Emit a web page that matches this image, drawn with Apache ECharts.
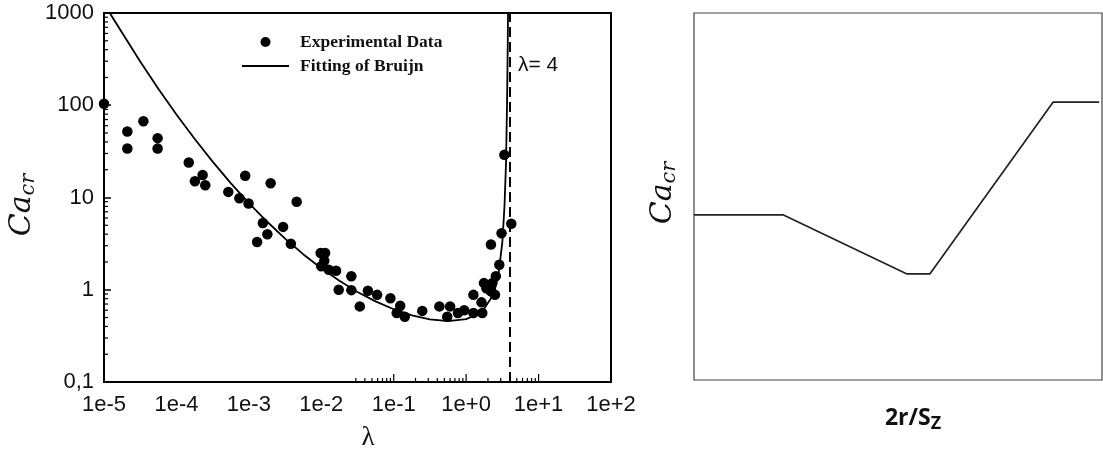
<!DOCTYPE html>
<html><head><meta charset="utf-8">
<script src="https://cdn.jsdelivr.net/npm/echarts@6/dist/echarts.min.js"></script>
<style>html,body{margin:0;padding:0;background:#fff}#c{width:1103px;height:454px}</style>
</head><body><div id="c"></div>
<script>
// ---- Left panel: experimental data (lambda, Ca_cr) ----
const expLambda = [1.0e-5, 2.1e-5, 2.1e-5, 3.5e-5, 5.5e-5, 5.5e-5, 1.48e-4, 1.8e-4, 2.3e-4, 2.5e-4,
  5.2e-4, 7.4e-4, 8.9e-4, 9.9e-4, 1.56e-3, 1.3e-3, 1.8e-3, 2.0e-3, 2.97e-3, 3.8e-3,
  4.57e-3, 9.8e-3, 1.13e-2, 1.1e-2, 1.0e-2, 1.27e-2, 1.6e-2, 1.74e-2, 2.6e-2, 2.6e-2,
  3.4e-2, 4.4e-2, 5.9e-2, 9.0e-2, 0.123, 0.11, 0.142, 0.248, 0.427, 0.548,
  0.6, 0.77, 0.94, 1.26, 1.26, 1.67, 1.63, 1.76, 1.9, 2.2,
  2.3, 2.57, 2.5, 2.2, 2.87, 3.08, 3.37, 4.2];
const expCa = [104, 52, 34, 67, 44, 34, 24, 15, 17.5, 13.6,
  11.5, 9.8, 17.2, 8.6, 5.3, 3.3, 4.0, 14.3, 4.8, 3.15,
  9.0, 2.5, 2.5, 2.07, 1.8, 1.65, 1.61, 1.0, 1.4, 0.99,
  0.66, 0.975, 0.88, 0.81, 0.67, 0.56, 0.51, 0.59, 0.66, 0.51,
  0.66, 0.56, 0.6, 0.56, 0.88, 0.56, 0.73, 1.18, 1.04, 3.1,
  1.18, 1.4, 0.88, 0.96, 1.87, 4.1, 29, 5.2];

// Fitted curve
const fitLambda = [1.2e-5, 1.78e-5, 3.16e-5, 5.62e-5, 1e-4, 1.78e-4, 3.16e-4, 5.62e-4, 1e-3, 1.78e-3,
  3.16e-3, 5.62e-3, 1e-2, 1.78e-2, 3.16e-2, 5.62e-2, 0.1, 0.178, 0.316, 0.562,
  1.0, 1.41, 1.78, 2.24, 2.51, 2.82, 3.16, 3.39, 3.55, 3.67, 3.758, 3.784];
const fitCa = [1000, 610, 298, 151, 79.5, 43.3, 24.5, 14.3, 8.7, 5.49,
  3.58, 2.43, 1.71, 1.25, 0.947, 0.748, 0.615, 0.528, 0.477, 0.457,
  0.481, 0.539, 0.625, 0.823, 1.03, 1.56, 3.27, 8.23, 23.5, 103, 500, 1000];

const criticalLambda = 4;

const xTickValues = [1e-5, 1e-4, 1e-3, 1e-2, 1e-1, 1, 10, 100];
const xTickLabels = ['1e-5', '1e-4', '1e-3', '1e-2', '1e-1', '1e+0', '1e+1', '1e+2'];
const yTickValues = [0.1, 1, 10, 100, 1000];
const yTickLabels = ['0,1', '1', '10', '100', '1000'];
const xMajorTicks = [0.1, 1, 10];
const xMinorTicks = [0.03, 0.04, 0.05, 0.06, 0.07, 0.08, 0.09, 0.2, 0.3, 0.4, 0.5, 0.6, 0.7, 0.8, 0.9, 2, 3, 5, 6, 7, 8, 9];
const yMinorTicks = [0.2,0.3,0.4,0.5,0.6,0.7,0.8,0.9, 2,3,4,5,6,7,8,9, 20,30,40,50,60,70,80,90, 200,300,400,500,600,700,800,900];

// ---- Right panel: schematic ----
const schemX = [0, 21.8, 52.2, 57.8, 88.0, 99.3];
const schemY = [45.0, 45.0, 28.9, 28.9, 75.7, 75.7];

function pickLabel(values, labels, v) {
  const i = values.findIndex(t => Math.abs(Math.log10(t) - Math.log10(v)) < 1e-6);
  return i >= 0 ? labels[i] : '';
}

const tickFont = { fontFamily: 'Liberation Sans', fontSize: 22, color: '#111' };

function tickSeries(vals, onX, len) {
  return {
    type: 'custom', xAxisIndex: 0, yAxisIndex: 0, silent: true, clip: false, z: 5,
    data: vals.map(v => onX ? [v, 0.1] : [1e-5, v]),
    renderItem: function (params, api) {
      const p = api.coord([api.value(0), api.value(1)]);
      const shape = onX ? { x1: p[0], y1: p[1], x2: p[0], y2: p[1] - len }
                        : { x1: p[0], y1: p[1], x2: p[0] + len, y2: p[1] };
      return { type: 'line', shape: shape, style: { stroke: '#000', lineWidth: 1.2 } };
    }
  };
}

const chart = echarts.init(document.getElementById('c'), null, { renderer: 'canvas' });
chart.setOption({
  backgroundColor: '#fff',
  animation: false,
  grid: [
    { left: 104, top: 13, width: 507, height: 369, show: true, borderColor: '#000', borderWidth: 2, backgroundColor: 'transparent' },
    { left: 694, top: 13, width: 408, height: 367, show: true, borderColor: '#444', borderWidth: 1.2, backgroundColor: 'transparent' }
  ],
  legend: {
    data: [
      { name: 'Experimental Data', icon: 'circle', itemStyle: { color: '#000', opacity: 1 } },
      { name: 'Fitting of Bruijn', icon: 'path://M0,0L100,0L100,4L0,4Z', itemStyle: { color: '#000' } }
    ],
    orient: 'vertical', left: 242, top: 33, padding: 0, itemWidth: 47, itemHeight: 10, itemGap: 6,
    symbolKeepAspect: true, selectedMode: false,
    textStyle: { fontFamily: 'Liberation Serif', fontWeight: 'bold', fontSize: 17.5, color: '#111', lineHeight: 18, padding: [0, 0, 0, 6] }
  },
  xAxis: [
    { type: 'log', logBase: 10, gridIndex: 0, min: 1e-5, max: 100, splitNumber: 7,
      axisLine: { show: false }, axisTick: { show: false }, splitLine: { show: false },
      axisLabel: Object.assign({ margin: 12, formatter: v => pickLabel(xTickValues, xTickLabels, v) }, tickFont) },
    { type: 'value', gridIndex: 1, min: 0, max: 100,
      axisLine: { show: false }, axisTick: { show: false }, axisLabel: { show: false }, splitLine: { show: false } }
  ],
  yAxis: [
    { type: 'log', logBase: 10, gridIndex: 0, min: 0.1, max: 1000, splitNumber: 4,
      axisLine: { show: false }, axisTick: { show: true, inside: true, length: 7, lineStyle: { color: '#000', width: 1.5 } },
      splitLine: { show: false },
      axisLabel: Object.assign({ margin: 10, formatter: v => pickLabel(yTickValues, yTickLabels, v) }, tickFont) },
    { type: 'value', gridIndex: 1, min: 0, max: 100,
      axisLine: { show: false }, axisTick: { show: false }, axisLabel: { show: false }, splitLine: { show: false } }
  ],
  series: [
    { name: 'Experimental Data', type: 'scatter', xAxisIndex: 0, yAxisIndex: 0,
      symbol: 'circle', symbolSize: 10.5, itemStyle: { color: '#000', opacity: 1 }, z: 4,
      data: expLambda.map((x, i) => [x, expCa[i]]),
      markLine: { silent: true, symbol: 'none', label: { show: false },
        lineStyle: { color: '#000', width: 2, type: [10, 5] },
        data: [{ xAxis: criticalLambda }] } },
    { name: 'Fitting of Bruijn', type: 'line', xAxisIndex: 0, yAxisIndex: 0,
      showSymbol: false, symbol: 'none', smooth: false,
      lineStyle: { color: '#000', width: 1.8 }, itemStyle: { color: '#000' }, z: 3,
      data: fitLambda.map((x, i) => [x, fitCa[i]]) },
    tickSeries(yMinorTicks, false, 4),
    tickSeries(xMinorTicks, true, 4),
    tickSeries(xMajorTicks, true, 8),
    { name: 'schematic', type: 'line', xAxisIndex: 1, yAxisIndex: 1,
      showSymbol: false, symbol: 'none', lineStyle: { color: '#222', width: 1.7 },
      data: schemX.map((x, i) => [x, schemY[i]]) }
  ],
  graphic: [
    { type: 'text', x: 22, y: 205, rotation: Math.PI / 2,
      style: { text: '{a|Ca}{b|cr}', align: 'center', verticalAlign: 'middle',
        rich: { a: { fontFamily: 'DejaVu Serif', fontStyle: 'italic', fontSize: 30, fill: '#111', lineHeight: 34 },
                b: { fontFamily: 'DejaVu Serif', fontStyle: 'italic', fontSize: 21, fill: '#111', lineHeight: 22, verticalAlign: 'bottom' } } } },
    { type: 'text', x: 368, y: 438,
      style: { text: 'λ', fontFamily: 'Liberation Serif', fontSize: 27, fill: '#111', align: 'center', verticalAlign: 'middle' } },
    { type: 'text', x: 518, y: 65,
      style: { text: 'λ= 4', fontFamily: 'Liberation Sans', fontSize: 21, fill: '#111', align: 'left', verticalAlign: 'middle' } },
    { type: 'text', x: 663, y: 193, rotation: Math.PI / 2,
      style: { text: '{a|Ca}{b|cr}', align: 'center', verticalAlign: 'middle',
        rich: { a: { fontFamily: 'DejaVu Serif', fontStyle: 'italic', fontSize: 30, fill: '#111', lineHeight: 34 },
                b: { fontFamily: 'DejaVu Serif', fontStyle: 'italic', fontSize: 21, fill: '#111', lineHeight: 22, verticalAlign: 'bottom' } } } },
    { type: 'text', x: 913, y: 418,
      style: { text: '{a|2r/S}{b|Z}', align: 'center', verticalAlign: 'middle',
        rich: { a: { fontFamily: 'Open Sans', fontWeight: 'bold', fontSize: 23, fill: '#111', lineHeight: 30 },
                b: { fontFamily: 'Open Sans', fontWeight: 'bold', fontSize: 18, fill: '#111', lineHeight: 20, verticalAlign: 'bottom' } } } }
  ]
});
</script>
</body></html>
